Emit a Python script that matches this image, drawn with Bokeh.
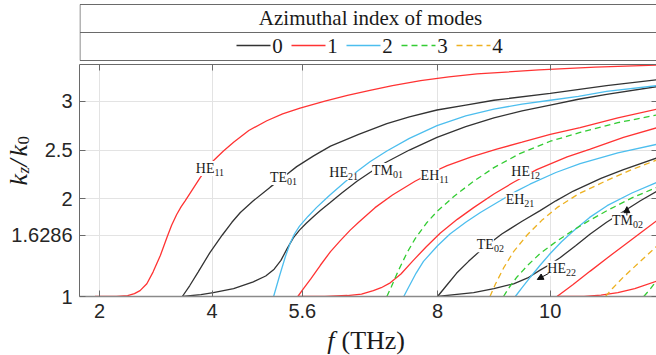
import numpy as np
from bokeh.plotting import figure
from bokeh.layouts import column, row
from bokeh.models import (Range1d, FixedTicker, CustomJSTickFormatter, LinearAxis,
                          Label, Arrow, NormalHead)
from bokeh.core.properties import value
from bokeh.embed import file_html
from bokeh.resources import INLINE

# ---------------- data ----------------
legend_title = "Azimuthal index of modes"
legend_modes = [0, 1, 2, 3, 4]
x_ticks = [2, 4, 5.6, 8, 10]
y_ticks = [1, 1.6286, 2, 2.5, 3]
y_tick_labels = ["1", "1.6286", "2", "2.5", "3"]
x_label = ("f", "(THz)")

# azimuthal index 1 (red)
he11_f = [1.92, 2.30, 2.50, 2.62, 2.72, 2.84, 2.95, 3.08, 3.20, 3.28, 3.37, 3.45, 3.52, 3.79, 4.02, 4.20, 4.38, 4.65, 4.97, 5.25, 5.56, 6.0, 6.4, 6.8, 7.2, 7.7, 8.2, 8.7, 9.8, 10.8, 11.9]
he11_n = [1.00, 1.00, 1.01, 1.03, 1.06, 1.13, 1.25, 1.42, 1.61, 1.73, 1.84, 1.92, 1.98, 2.22, 2.39, 2.49, 2.58, 2.70, 2.80, 2.87, 2.93, 3.00, 3.06, 3.11, 3.16, 3.21, 3.25, 3.28, 3.32, 3.35, 3.37]
eh11_f = [5.52, 5.62, 5.75, 5.92, 6.10, 6.27, 6.45, 6.60, 6.89, 7.20, 7.60, 7.90, 8.17, 8.60, 9.05, 9.50, 10.0, 10.53, 11.2, 11.9]
eh11_n = [1.00, 1.08, 1.18, 1.32, 1.46, 1.57, 1.68, 1.76, 1.91, 2.04, 2.18, 2.27, 2.34, 2.43, 2.51, 2.58, 2.66, 2.73, 2.83, 2.92]
he12_f = [5.52, 6.00, 6.40, 6.65, 6.86, 7.00, 7.16, 7.35, 7.57, 7.80, 8.05, 8.35, 8.64, 9.00, 9.35, 9.76, 10.3, 10.71, 11.3, 11.9]
he12_n = [1.00, 1.00, 1.01, 1.025, 1.06, 1.09, 1.14, 1.23, 1.37, 1.51, 1.65, 1.79, 1.91, 2.05, 2.17, 2.30, 2.43, 2.51, 2.63, 2.73]
eh12_f = [10.12, 10.4, 10.71, 11.0, 11.3, 11.6, 11.9]
eh12_n = [1.00, 1.12, 1.26, 1.39, 1.52, 1.65, 1.78]
he13_f = [10.12, 10.6, 10.9, 11.2, 11.5, 11.9]
he13_n = [1.00, 1.00, 1.015, 1.04, 1.08, 1.16]

# azimuthal index 0 (black)
te01_f = [3.47, 3.60, 3.75, 3.96, 4.18, 4.35, 4.50, 4.73, 5.03, 5.30, 5.50, 5.80, 6.10, 6.60, 7.10, 7.50, 7.99, 8.50, 9.0, 10.0, 11.0, 11.9]
te01_n = [1.00, 1.11, 1.25, 1.45, 1.63, 1.76, 1.86, 1.98, 2.12, 2.24, 2.33, 2.44, 2.54, 2.66, 2.77, 2.84, 2.91, 2.96, 3.01, 3.08, 3.16, 3.22]
tm01_f = [3.47, 3.80, 4.02, 4.38, 4.73, 4.95, 5.10, 5.22, 5.33, 5.44, 5.55, 5.67, 5.80, 5.92, 6.09, 6.30, 6.57, 6.80, 7.07, 7.50, 7.99, 8.50, 9.0, 9.5, 10.0, 10.5, 11.0, 11.9]
tm01_n = [1.00, 1.02, 1.04, 1.08, 1.15, 1.21, 1.28, 1.37, 1.49, 1.60, 1.68, 1.75, 1.82, 1.88, 1.96, 2.06, 2.18, 2.27, 2.37, 2.50, 2.63, 2.74, 2.83, 2.90, 2.96, 3.02, 3.07, 3.15]
te02_f = [8.00, 8.17, 8.34, 8.55, 8.76, 9.14, 9.50, 9.82, 10.1, 10.41, 10.9, 11.3, 11.9]
te02_n = [1.00, 1.12, 1.24, 1.36, 1.47, 1.64, 1.77, 1.88, 1.98, 2.08, 2.21, 2.30, 2.42]
tm02_f = [8.00, 8.30, 8.64, 9.00, 9.35, 9.60, 9.82, 10.0, 10.18, 10.45, 10.71, 11.0, 11.3, 11.6, 11.9]
tm02_n = [1.00, 1.02, 1.04, 1.08, 1.13, 1.19, 1.27, 1.33, 1.40, 1.52, 1.64, 1.76, 1.87, 1.98, 2.08]

# azimuthal index 2 (blue)
he21_f = [5.09, 5.20, 5.30, 5.38, 5.46, 5.55, 5.70, 5.85, 5.98, 6.09, 6.33, 6.57, 6.80, 7.10, 7.50, 7.99, 8.50, 9.0, 9.5, 10.0, 10.5, 11.0, 11.9]
he21_n = [1.00, 1.22, 1.41, 1.54, 1.64, 1.72, 1.82, 1.91, 1.98, 2.04, 2.16, 2.28, 2.38, 2.49, 2.62, 2.75, 2.85, 2.92, 2.97, 3.01, 3.05, 3.10, 3.16]
eh21_f = [7.40, 7.50, 7.62, 7.75, 8.00, 8.22, 8.50, 8.76, 9.11, 9.40, 9.64, 10.1, 10.53, 11.2, 11.9]
eh21_n = [1.00, 1.11, 1.24, 1.36, 1.52, 1.64, 1.76, 1.86, 1.98, 2.08, 2.15, 2.27, 2.36, 2.47, 2.56]
he22_f = [9.38, 9.50, 9.65, 9.82, 10.0, 10.2, 10.41, 10.7, 11.01, 11.45, 11.9]
he22_n = [1.00, 1.09, 1.20, 1.32, 1.44, 1.56, 1.67, 1.81, 1.93, 2.06, 2.17]

# azimuthal index 3 (green, dashed)
m3a_f = [7.10, 7.18, 7.30, 7.46, 7.60, 7.80, 7.99, 8.30, 8.64, 9.00, 9.45, 10.0, 10.53, 11.2, 11.9]
m3a_n = [1.00, 1.10, 1.26, 1.45, 1.59, 1.75, 1.87, 2.03, 2.18, 2.32, 2.46, 2.59, 2.68, 2.78, 2.86]
m3b_f = [9.17, 9.28, 9.41, 9.60, 9.82, 10.1, 10.41, 10.7, 11.01, 11.45, 11.9]
m3b_n = [1.00, 1.10, 1.20, 1.32, 1.44, 1.56, 1.68, 1.78, 1.88, 2.01, 2.12]
m3c_f = [11.66, 11.78, 11.9]
m3c_n = [1.00, 1.08, 1.17]

# azimuthal index 4 (orange, dashed)
m4a_f = [8.93, 9.03, 9.17, 9.35, 9.59, 9.85, 10.12, 10.5, 11.01, 11.45, 11.9]
m4a_n = [1.00, 1.13, 1.29, 1.46, 1.63, 1.78, 1.91, 2.05, 2.19, 2.30, 2.40]
m4b_f = [10.98, 11.1, 11.3, 11.6, 11.9]
m4b_n = [1.00, 1.08, 1.20, 1.36, 1.52]

curves = [
    (he11_f, he11_n, 1), (eh11_f, eh11_n, 1), (he12_f, he12_n, 1), (eh12_f, eh12_n, 1), (he13_f, he13_n, 1),
    (te01_f, te01_n, 0), (tm01_f, tm01_n, 0), (te02_f, te02_n, 0), (tm02_f, tm02_n, 0),
    (he21_f, he21_n, 2), (eh21_f, eh21_n, 2), (he22_f, he22_n, 2),
    (m3a_f, m3a_n, 3), (m3b_f, m3b_n, 3), (m3c_f, m3c_n, 3),
    (m4a_f, m4a_n, 4), (m4b_f, m4b_n, 4),
]

# mode name labels: (main, subscript, f at junction, kz/k0)
mode_labels = [
    ("HE", "11", 4.04, 2.31), ("TE", "01", 5.33, 2.22), ("HE", "21", 6.41, 2.27),
    ("TM", "01", 7.21, 2.29), ("EH", "11", 8.03, 2.24), ("HE", "12", 9.64, 2.28),
    ("EH", "21", 9.54, 1.99), ("TE", "02", 9.00, 1.53), ("HE", "22", 10.28, 1.29),
    ("TM", "02", 11.47, 1.78),
]
# arrows: (f_start, n_start, f_end, n_end)
arrows = [(9.97, 1.236, 9.77, 1.174), (11.36, 1.83, 11.36, 1.92)]

# ---------------- styles / layout ----------------
COLORS = {0: "#333333", 1: "#FF3333", 2: "#4DBEEE", 3: "#33CC33", 4: "#EDB120"}
DASH = {0: "solid", 1: "solid", 2: "solid", 3: "6 4", 4: "6 4"}
SERIF = "Liberation Serif"
SANS = "Liberation Sans"
FRAME = "#6a6a6a"
TXT = "#1a1a1a"

W, H = 656, 355
LEFT = 79          # frame left edge (px)
RW = W - LEFT      # right column width
LEG_H = 62         # legend panel height
MID_H = 264        # plot height
BOT_H = H - LEG_H - MID_H
FR_TOP, FR_BOT = 64, 296   # frame top / bottom (px, page coords)
X0, X1 = 1.645, 11.886
Y0, Y1 = 1.0, 3.376
PPU = (FR_BOT - FR_TOP) / (Y1 - Y0)


def plain_fig(w, h, xr, yr):
    f = figure(width=w, height=h, x_range=xr, y_range=yr, min_border_left=0, min_border_right=0,
               min_border_top=0, min_border_bottom=0, x_axis_location=None, y_axis_location=None,
               toolbar_location=None, output_backend="svg", title=None)
    f.grid.visible = False
    f.outline_line_color = None
    f.background_fill_color = "white"
    return f


# ---------------- legend panel (page px coordinates) ----------------
leg = plain_fig(RW, LEG_H, Range1d(LEFT, W), Range1d(0, LEG_H))
gx0 = LEFT + 0.5
leg.segment(x0=[gx0, gx0, gx0, gx0], y0=[58, 30, 2, 2], x1=[W, W, W, gx0], y1=[58, 30, 2, 58],
            line_color=FRAME, line_width=1)
leg.text(x=[370], y=[45], text=[legend_title], text_align="center", text_baseline="middle",
         text_font=value(SERIF), text_font_size="21px", text_color=TXT)
for i, m in enumerate(legend_modes):
    x0 = 236 + 55 * i
    leg.line([x0, x0 + 34], [17, 17], line_color=COLORS[m], line_width=1.5, line_dash=DASH[m])
    leg.text(x=[x0 + 41], y=[17], text=[str(m)], text_align="center", text_baseline="middle",
             text_font=value(SERIF), text_font_size="21px", text_color=TXT)

# ---------------- left gutter (full height): y tick labels + y title ----------------
g_y0 = Y0 - (H - FR_BOT) / PPU
g_y1 = Y1 + FR_TOP / PPU
gut = plain_fig(LEFT, H, Range1d(0, LEFT), Range1d(g_y0, g_y1))
gut.text(x=[LEFT - 7] * len(y_ticks), y=y_ticks, text=y_tick_labels, text_align="right",
         text_baseline="middle", text_font=value(SANS), text_font_size="20px", text_color="#262626")


def ypx(py):
    return Y1 - (py - FR_TOP) / PPU


rot = np.pi / 2
for t, px, py, size, style in [("k", 18, 185, "26px", "italic"), ("z", 23, 173, "17px", "italic"),
                               ("/", 18, 166, "26px", "italic"), ("k", 18, 156, "26px", "italic"),
                               ("0", 23, 144, "17px", "normal")]:
    gut.text(x=[px], y=[ypx(py)], text=[t], angle=rot, text_align="left", text_baseline="middle",
             text_font=value(SERIF), text_font_size=size, text_font_style=style, text_color=TXT)

# ---------------- main plot ----------------
p = figure(width=RW, height=MID_H, x_range=Range1d(X0, X1), y_range=Range1d(Y0, Y1),
           min_border_left=0, min_border_right=0, min_border_top=FR_TOP - LEG_H,
           min_border_bottom=LEG_H + MID_H - FR_BOT, toolbar_location=None, output_backend="svg",
           title=None)
p.outline_line_color = None
p.background_fill_color = "white"

fmt = CustomJSTickFormatter(code="return String(tick);")
xa = p.xaxis[0]
xa.ticker = FixedTicker(ticks=x_ticks)
xa.formatter = fmt
xa.major_label_text_font = SANS
xa.major_label_text_font_size = "20px"
xa.major_label_text_color = "#262626"
xa.major_label_standoff = 7
xa.axis_line_color = "#8a8a8a"
xa.axis_line_width = 1.5

ya = p.yaxis[0]
ya.ticker = FixedTicker(ticks=y_ticks)
ya.major_label_text_font_size = "0px"
ya.major_label_text_color = None
ya.major_label_standoff = 0
ya.axis_line_color = FRAME

for ax in (xa, ya):
    ax.major_tick_in = 6
    ax.major_tick_out = 0
    ax.minor_tick_line_color = None
    ax.major_tick_line_color = FRAME

top_ax = LinearAxis(ticker=FixedTicker(ticks=x_ticks), major_label_text_font_size="0px",
                    major_label_text_color=None, major_tick_in=6, major_tick_out=0,
                    minor_tick_line_color=None, axis_line_color=FRAME,
                    major_tick_line_color=FRAME, major_label_standoff=0)
p.add_layout(top_ax, "above")
right_ax = LinearAxis(ticker=FixedTicker(ticks=y_ticks), major_label_text_font_size="0px",
                      major_label_text_color=None, major_tick_in=5, major_tick_out=0,
                      minor_tick_line_color=None, axis_line_color=None,
                      major_tick_line_color=FRAME, major_label_standoff=0)
p.add_layout(right_ax, "right")

p.xgrid.ticker = FixedTicker(ticks=x_ticks)
p.ygrid.ticker = FixedTicker(ticks=y_ticks)
p.grid.grid_line_color = "#e3e3e3"
p.grid.grid_line_width = 1

for f, n, m in curves:
    p.line(f, n, line_color=COLORS[m], line_width=1.3, line_dash=DASH[m])

for main, sub, xf, yn in mode_labels:
    p.add_layout(Label(x=xf, y=yn, text=main, text_align="right", text_baseline="middle",
                       text_font=SERIF, text_font_size="14px", text_color=TXT,
                       background_fill_color="white"))
    p.add_layout(Label(x=xf, y=yn, y_offset=-4, text=sub, text_align="left", text_baseline="middle",
                       text_font=SERIF, text_font_size="10px", text_color=TXT,
                       background_fill_color="white"))

for xs, ys, xe, ye in arrows:
    p.add_layout(Arrow(x_start=xs, y_start=ys, x_end=xe, y_end=ye, line_color="#111111", line_width=1,
                       end=NormalHead(size=6, fill_color="#111111", line_color="#111111")))

# ---------------- bottom strip: x title (page px coordinates, y measured up from page bottom) ----------------
xs_fig = plain_fig(RW, BOT_H, Range1d(LEFT, W), Range1d(0, BOT_H))
mid_y = H - 340
xs_fig.text(x=[334], y=[mid_y], text=[x_label[0]], text_align="right", text_baseline="middle",
            text_font=value(SERIF), text_font_size="26px", text_font_style="italic", text_color=TXT)
xs_fig.text(x=[341], y=[mid_y], text=[x_label[1]], text_align="left", text_baseline="middle",
            text_font=value(SERIF), text_font_size="26px", text_color=TXT)

layout = row(gut, column(leg, p, xs_fig, spacing=0), spacing=0)
open("out.html", "w").write(file_html(layout, INLINE))
